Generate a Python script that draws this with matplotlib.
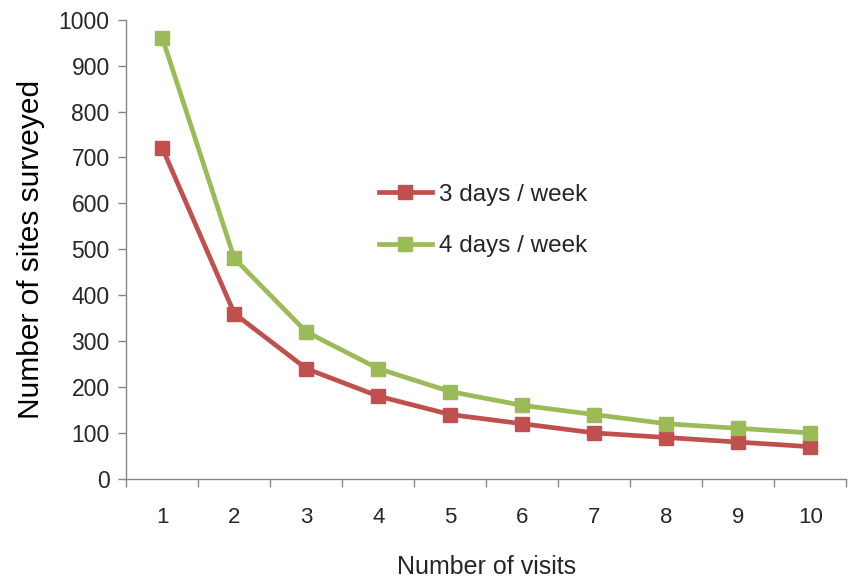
import matplotlib
matplotlib.use("Agg")
import matplotlib.pyplot as plt
import numpy as np

# number of visits per site
visits = [1, 2, 3, 4, 5, 6, 7, 8, 9, 10]

# number of sites that can be surveyed
sites_3_days = [720, 360, 240, 180, 140, 120, 100, 90, 80, 70]
sites_4_days = [960, 480, 320, 240, 190, 160, 140, 120, 110, 100]

series_labels = ["3 days / week", "4 days / week"]
y_ticks = [0, 100, 200, 300, 400, 500, 600, 700, 800, 900, 1000]

RED = "#C0504D"
GREEN = "#9BBB59"
AXIS_GREY = "#868686"
TEXT = "#262626"
font = ["Liberation Sans", "DejaVu Sans"]

fig = plt.figure(figsize=(8.48, 5.79), dpi=100)
ax = fig.add_axes([0.149, 0.173, 0.849, 0.793])

ax.plot(visits, sites_3_days, color=RED, lw=3.4, marker="s", ms=10,
        label=series_labels[0], solid_joinstyle="round")
ax.plot(visits, sites_4_days, color=GREEN, lw=3.4, marker="s", ms=10,
        label=series_labels[1], solid_joinstyle="round")

ax.set_xlim(0.5, 10.5)
ax.set_ylim(0, 1000)

# category axis: ticks sit between categories, labels at the centres
ax.set_xticks(np.arange(0.5, 11, 1))
ax.set_xticklabels([])
ax.set_xticks(visits, minor=True)
ax.set_xticklabels([str(v) for v in visits], minor=True,
                   family=font, fontsize=16, color=TEXT)
ax.tick_params(axis="x", which="major", direction="out", length=6,
               color=AXIS_GREY, width=1)
ax.tick_params(axis="x", which="minor", length=0, pad=20)

ax.set_yticks(y_ticks)
ax.set_yticklabels([str(t) for t in y_ticks], family=font,
                   fontsize=16.5, color=TEXT)
ax.tick_params(axis="y", direction="out", length=6, color=AXIS_GREY,
               width=1, pad=6)

for side in ("top", "right"):
    ax.spines[side].set_visible(False)
for side in ("left", "bottom"):
    ax.spines[side].set_color(AXIS_GREY)
    ax.spines[side].set_linewidth(1)

ax.set_ylabel("Number of sites surveyed", family=font, fontsize=21.5,
              color="black", labelpad=10)
ax.set_xlabel("Number of visits", family=font, fontsize=18,
              color=TEXT, labelpad=20)

ax.legend(loc="upper left", bbox_to_anchor=(0.32, 0.69), frameon=False,
          prop={"family": font, "size": 17.5}, handlelength=2.2,
          handletextpad=0.3, labelspacing=1.2, labelcolor=TEXT)

fig.savefig("out.png", dpi=100)
